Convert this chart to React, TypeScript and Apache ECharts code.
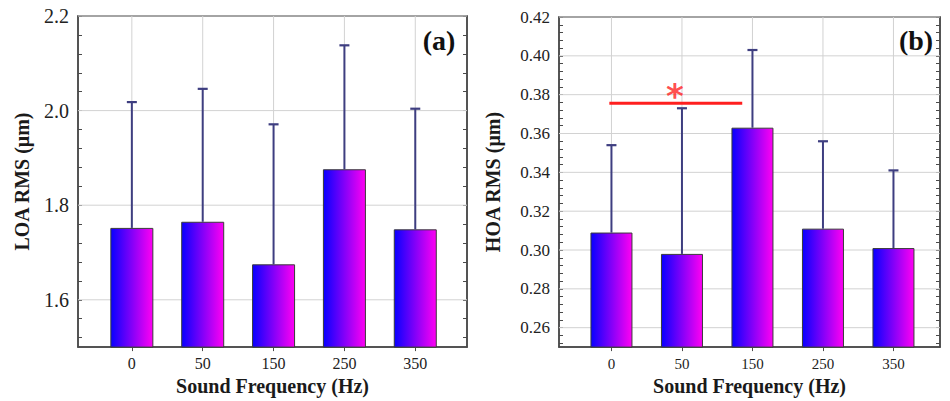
import React, { useEffect, useRef } from 'react';
import * as echarts from 'echarts';

// ---------- data ----------
const FREQUENCIES = ['0', '50', '150', '250', '350'];
const LOA_MEAN = [1.752, 1.765, 1.675, 1.876, 1.749];
const LOA_UPPER = [2.018, 2.046, 1.971, 2.138, 2.004];
const HOA_MEAN = [0.309, 0.298, 0.363, 0.311, 0.301];
const HOA_UPPER = [0.354, 0.373, 0.403, 0.356, 0.341];

const LOA_TICKS = [1.6, 1.8, 2.0, 2.2];
const HOA_TICKS = [0.26, 0.28, 0.3, 0.32, 0.34, 0.36, 0.38, 0.4, 0.42];
const LOA_RANGE = [1.5, 2.2];
const HOA_RANGE = [0.25, 0.42];
const LOA_X_RANGE = [-0.76, 4.73];
const HOA_X_RANGE = [-0.744, 4.66];

// significance bracket between 0 Hz and 150 Hz (panel b)
const SIG_LINE_X = [-0.03, 1.855];
const SIG_LINE_Y = 0.3756;
const SIG_MARK = [0.9, 0.3792];

const FONT = 'Liberation Serif';
const AXIS_COLOR = '#4a4a4a';
const GRID_COLOR = '#d2d2d2';
const ERR_COLOR = '#3e3e80';

// minor tick positions (5 parts between majors) - axis decoration only
function minorTicks(majors: number[], lo: number): number[] {
  const step = (majors[1] - majors[0]) / 5;
  const out: number[] = [];
  let v = majors[0];
  while (v - step >= lo - 1e-9) v -= step;
  const top = majors[majors.length - 1];
  for (let t = v; t <= top + 1e-9; t += step) out.push(Number(t.toFixed(5)));
  return out;
}

function hLines(ticks: number[]) {
  return ticks.map((v) => [0, v]);
}

export default function App() {
  const ref = useRef<HTMLDivElement>(null);

  useEffect(() => {
    if (!ref.current) return;
    const chart = echarts.init(ref.current, undefined, { renderer: 'svg' });

    const barColor = new echarts.graphic.LinearGradient(0, 0, 1, 0, [
      { offset: 0, color: '#0800ff' },
      { offset: 1, color: '#ff00f2' },
    ]);

    const gridRender = (params: any, api: any) => {
      const cs = params.coordSys;
      const y = api.coord([0, api.value(1)])[1];
      return {
        type: 'line',
        shape: { x1: cs.x, y1: y, x2: cs.x + cs.width, y2: y },
        style: { stroke: GRID_COLOR, lineWidth: 1 },
      };
    };
    const vGridRender = (params: any, api: any) => {
      const cs = params.coordSys;
      const x = api.coord([api.value(0), api.value(1)])[0];
      return {
        type: 'line',
        shape: { x1: x, y1: cs.y, x2: x, y2: cs.y + cs.height },
        style: { stroke: GRID_COLOR, lineWidth: 1 },
      };
    };
    const errRender = (params: any, api: any) => {
      const p0 = api.coord([api.value(0), api.value(1)]);
      const p1 = api.coord([api.value(0), api.value(2)]);
      return {
        type: 'group',
        children: [
          {
            type: 'line',
            shape: { x1: p0[0], y1: p0[1], x2: p1[0], y2: p1[1] },
            style: { stroke: ERR_COLOR, lineWidth: 2 },
          },
          {
            type: 'line',
            shape: { x1: p1[0] - 5, y1: p1[1], x2: p1[0] + 5, y2: p1[1] },
            style: { stroke: ERR_COLOR, lineWidth: 2.2 },
          },
        ],
      };
    };

    const idx = FREQUENCIES.map((_, i) => i);

    const xAxisCfg = (gridIndex: number, range: number[], labelSize: number, labelMargin: number, nameGap: number) => ({
      type: 'value',
      gridIndex,
      min: range[0],
      max: range[1],
      name: 'Sound Frequency (Hz)',
      nameLocation: 'middle',
      nameGap,
      nameTextStyle: { fontFamily: FONT, fontWeight: 'bold', fontSize: 20, color: '#1a1a1a' },
      axisLine: { show: true, onZero: false, lineStyle: { color: AXIS_COLOR, width: 1.5 } },
      axisTick: { show: true, customValues: idx, length: 4, lineStyle: { color: AXIS_COLOR } },
      axisLabel: {
        customValues: idx,
        formatter: (v: number) => FREQUENCIES[Math.round(v)],
        fontFamily: FONT,
        fontSize: labelSize,
        color: '#222',
        margin: labelMargin,
      },
      splitLine: { show: false },
    });

    const yAxisCfg = (
      gridIndex: number,
      range: number[],
      ticks: number[],
      name: string,
      labelSize: number,
      nameGap: number,
      decimals: number
    ) => [
      {
        type: 'value',
        gridIndex,
        position: 'left',
        min: range[0],
        max: range[1],
        name,
        nameLocation: 'middle',
        nameRotate: 90,
        nameGap,
        nameTextStyle: { fontFamily: FONT, fontWeight: 'bold', fontSize: 20, color: '#1a1a1a' },
        axisLine: { show: true, onZero: false, lineStyle: { color: AXIS_COLOR, width: 1.5 } },
        axisTick: {
          show: true,
          inside: true,
          length: 4,
          customValues: minorTicks(ticks, range[0]),
          lineStyle: { color: AXIS_COLOR },
        },
        axisLabel: {
          customValues: ticks,
          formatter: (v: number) => v.toFixed(decimals),
          fontFamily: FONT,
          fontSize: labelSize,
          color: '#222',
          margin: 9,
        },
        splitLine: { show: false },
      },
      {
        type: 'value',
        gridIndex,
        position: 'right',
        min: range[0],
        max: range[1],
        axisLine: { show: true, onZero: false, lineStyle: { color: AXIS_COLOR, width: 1.5 } },
        axisTick: {
          show: true,
          inside: true,
          length: 4,
          customValues: minorTicks(ticks, range[0]),
          lineStyle: { color: AXIS_COLOR },
        },
        axisLabel: { show: false },
        splitLine: { show: false },
      },
    ];

    const panelSeries = (xi: number, yi: number, ticks: number[], range: number[], mean: number[], upper: number[], bw: number) => [
      {
        type: 'custom',
        xAxisIndex: xi,
        yAxisIndex: yi,
        z: 1,
        silent: true,
        renderItem: gridRender,
        data: hLines(ticks),
      },
      {
        type: 'custom',
        xAxisIndex: xi,
        yAxisIndex: yi,
        z: 1,
        silent: true,
        renderItem: vGridRender,
        data: idx.map((i) => [i, range[0]]),
      },
      {
        type: 'bar',
        xAxisIndex: xi,
        yAxisIndex: yi,
        z: 2,
        barWidth: bw,
        itemStyle: { color: barColor, borderColor: '#3a3a3a', borderWidth: 1 },
        data: mean.map((v, i) => [i, v]),
      },
      {
        type: 'custom',
        xAxisIndex: xi,
        yAxisIndex: yi,
        z: 3,
        silent: true,
        renderItem: errRender,
        data: mean.map((v, i) => [i, v, upper[i]]),
      },
    ];

    const option: any = {
      animation: false,
      backgroundColor: '#ffffff',
      textStyle: { fontFamily: FONT },
      grid: [
        { left: 78, top: 16, width: 389, height: 333, show: true, borderColor: AXIS_COLOR, borderWidth: 1.5, containLabel: false },
        { left: 559, top: 17, width: 381, height: 331, show: true, borderColor: AXIS_COLOR, borderWidth: 1.5, containLabel: false },
      ],
      xAxis: [xAxisCfg(0, LOA_X_RANGE, 16, 8, 24), xAxisCfg(1, HOA_X_RANGE, 15, 9, 22)],
      yAxis: [
        ...yAxisCfg(0, LOA_RANGE, LOA_TICKS, 'LOA RMS (μm)', 20, 46, 1),
        ...yAxisCfg(1, HOA_RANGE, HOA_TICKS, 'HOA RMS (μm)', 17, 56, 2),
      ],
      graphic: [
        {
          type: 'text',
          x: 439,
          y: 40,
          style: { text: '(a)', fontFamily: FONT, fontWeight: 'bold', fontSize: 28, fill: '#111', align: 'center', verticalAlign: 'middle' },
        },
        {
          type: 'text',
          x: 916,
          y: 40,
          style: { text: '(b)', fontFamily: FONT, fontWeight: 'bold', fontSize: 28, fill: '#111', align: 'center', verticalAlign: 'middle' },
        },
      ],
      series: [
        ...panelSeries(0, 0, LOA_TICKS, LOA_RANGE, LOA_MEAN, LOA_UPPER, 43),
        ...panelSeries(1, 2, HOA_TICKS, HOA_RANGE, HOA_MEAN, HOA_UPPER, 42),
        {
          type: 'line',
          xAxisIndex: 1,
          yAxisIndex: 2,
          z: 4,
          silent: true,
          showSymbol: false,
          symbol: 'none',
          lineStyle: { color: '#ff1f1f', width: 3 },
          data: SIG_LINE_X.map((x) => [x, SIG_LINE_Y]),
        },
        {
          type: 'scatter',
          xAxisIndex: 1,
          yAxisIndex: 2,
          z: 4,
          silent: true,
          symbolSize: 1,
          itemStyle: { color: 'rgba(0,0,0,0)' },
          label: {
            show: true,
            position: 'inside',
            formatter: '*',
            fontFamily: 'DejaVu Sans',
            fontWeight: 'bold',
            fontSize: 34,
            color: '#ff1f1f',
          },
          data: [SIG_MARK],
        },
      ],
    };

    chart.setOption(option);
    return () => chart.dispose();
  }, []);

  return (
    <div
      ref={ref}
      style={{ position: 'absolute', left: 0, top: 0, width: 950, height: 401, background: '#fff' }}
    />
  );
}
